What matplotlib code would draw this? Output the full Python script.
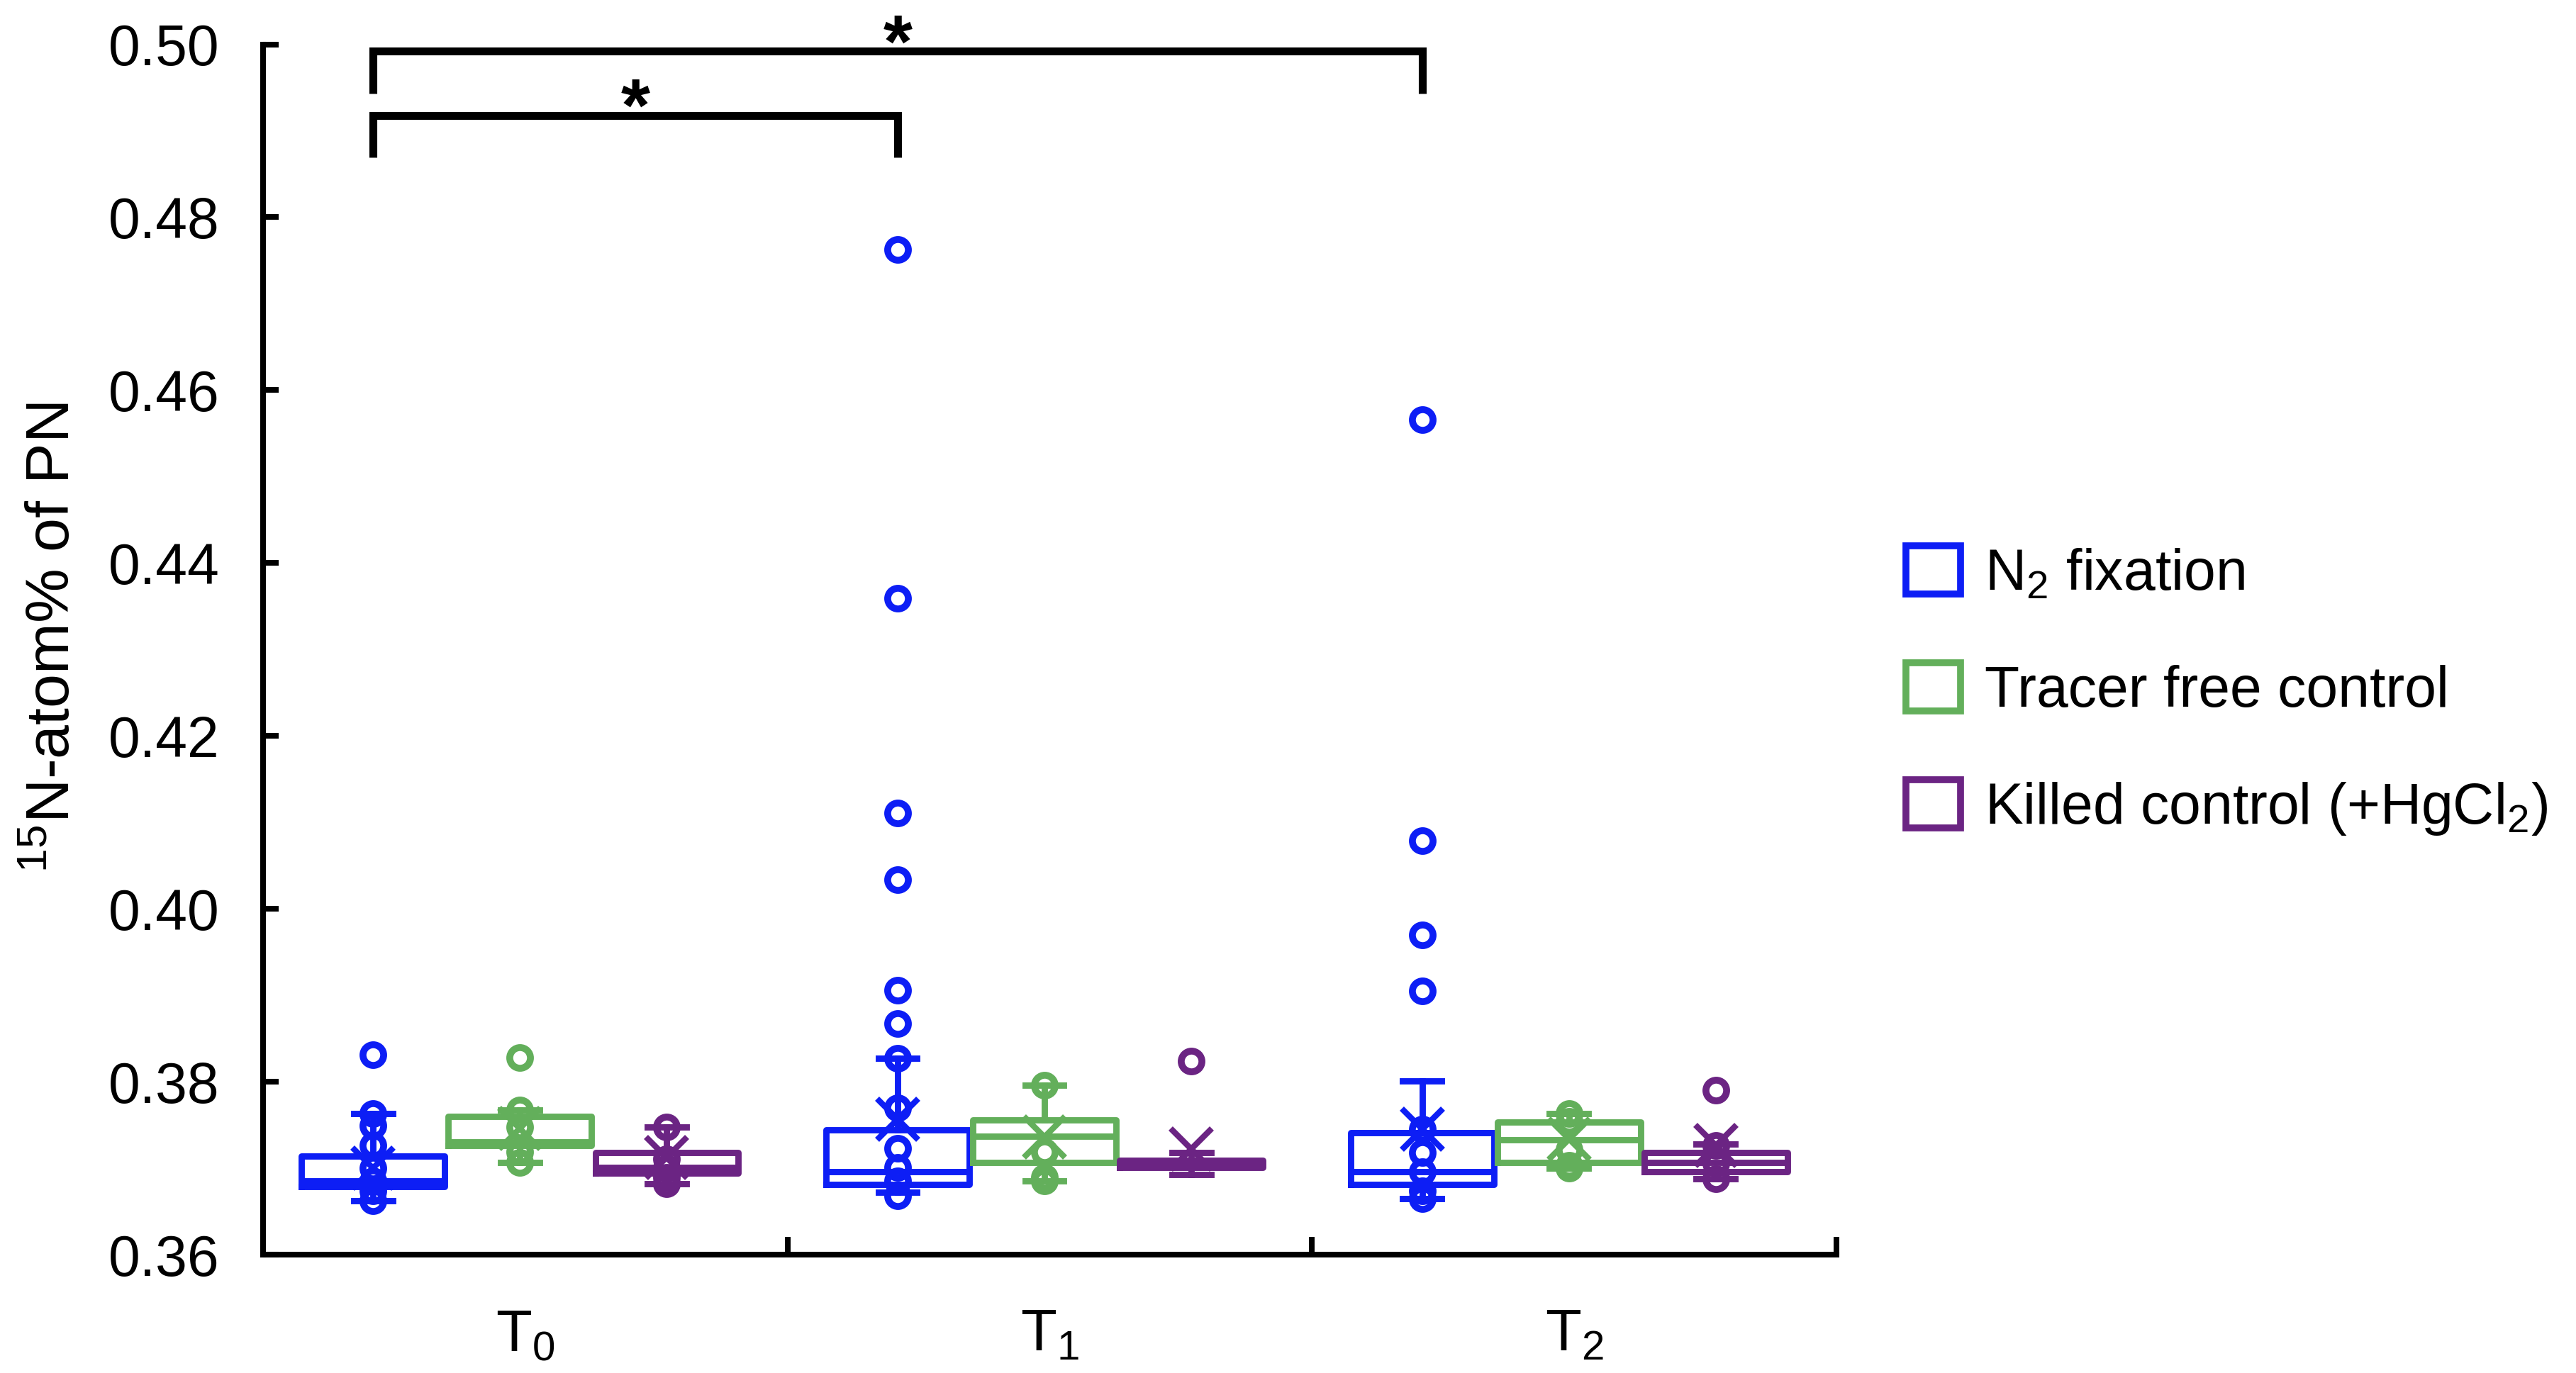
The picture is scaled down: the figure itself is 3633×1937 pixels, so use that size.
import numpy as np
import matplotlib
matplotlib.use("Agg")
import matplotlib.pyplot as plt
from matplotlib.patches import Patch
from matplotlib.ticker import FormatStrFormatter

plt.rcParams["font.family"] = ["Liberation Sans", "DejaVu Sans"]
plt.rcParams["mathtext.fontset"] = "custom"
plt.rcParams["mathtext.rm"] = "Liberation Sans"
plt.rcParams["mathtext.it"] = "Liberation Sans:italic"
plt.rcParams["mathtext.bf"] = "Liberation Sans:bold"

# --- data ---
times = ["T$_0$", "T$_1$", "T$_2$"]
treatments = ["N$_2$ fixation", "Tracer free control", "Killed control (+HgCl$_2$)"]
colors = ["#0D1EF5", "#63AF5B", "#6B2483"]

# N2 fixation
n2_whislo = [0.3662, 0.3672, 0.3665]
n2_q1 = [0.3679, 0.3681, 0.3681]
n2_med = [0.3685, 0.3696, 0.3696]
n2_q3 = [0.3714, 0.3744, 0.3741]
n2_whishi = [0.3763, 0.3827, 0.3801]
n2_mean = [0.3700, 0.3757, 0.3745]
n2_points = [
    [0.3831, 0.3763, 0.3749, 0.3726, 0.3700, 0.3685, 0.3674, 0.3662],
    [0.4763, 0.4359, 0.4111, 0.4034, 0.3906, 0.3867, 0.3827, 0.3770,
     0.3723, 0.3701, 0.3685, 0.3668],
    [0.4566, 0.4079, 0.3970, 0.3905, 0.3745, 0.3718, 0.3696, 0.3674, 0.3665],
]

# tracer free control
tf_whislo = [0.3707, 0.3685, 0.3700]
tf_q1 = [0.3726, 0.3707, 0.3707]
tf_med = [0.3730, 0.3737, 0.3733]
tf_q3 = [0.3760, 0.3756, 0.3753]
tf_whishi = [0.3767, 0.3796, 0.3763]
tf_mean = [0.3746, 0.3736, 0.3734]
tf_points = [
    [0.3828, 0.3767, 0.3748, 0.3719, 0.3707],
    [0.3796, 0.3719, 0.3689, 0.3685],
    [0.3763, 0.3754, 0.3721, 0.3703, 0.3700],
]

# killed control (+HgCl2)
kc_whislo = [0.3682, 0.3693, 0.3688]
kc_q1 = [0.3694, 0.3701, 0.3696]
kc_med = [0.3701, 0.3705, 0.3707]
kc_q3 = [0.3718, 0.3709, 0.3718]
kc_whishi = [0.3748, 0.3718, 0.3728]
kc_mean = [0.3712, 0.3722, 0.3726]
kc_points = [
    [0.3748, 0.3711, 0.3700, 0.3689, 0.3682],
    [0.3824],
    [0.3790, 0.3726, 0.3706, 0.3688],
]

# significance brackets: (from time, to time), bracket height
sig_pairs = [(0, 1), (0, 2)]
sig_heights = [0.4918, 0.4992]
sig_drop = 0.0049

groups = [
    (n2_whislo, n2_q1, n2_med, n2_q3, n2_whishi, n2_mean, n2_points),
    (tf_whislo, tf_q1, tf_med, tf_q3, tf_whishi, tf_mean, tf_points),
    (kc_whislo, kc_q1, kc_med, kc_q3, kc_whishi, kc_mean, kc_points),
]
offsets = [-0.29, -0.01, 0.27]
box_w = 0.273
lw = 3.2

fig = plt.figure(figsize=(18.165, 9.685), dpi=200)
ax = fig.add_axes([0.1021, 0.0862, 0.6108, 0.8815])

for k, (g, color) in enumerate(zip(groups, colors)):
    wlo, q1, med, q3, whi, mean, pts = g
    stats = []
    for i in range(len(times)):
        stats.append({"whislo": wlo[i], "q1": q1[i], "med": med[i], "q3": q3[i],
                      "whishi": whi[i], "mean": mean[i], "fliers": []})
    pos = [i + offsets[k] for i in range(len(times))]
    ax.bxp(stats, positions=pos, widths=box_w, capwidths=0.074,
           showmeans=True, showfliers=False, manage_ticks=False,
           boxprops=dict(color=color, linewidth=lw),
           whiskerprops=dict(color=color, linewidth=lw),
           capprops=dict(color=color, linewidth=lw),
           medianprops=dict(color=color, linewidth=lw),
           meanprops=dict(marker="x", markeredgecolor=color, markersize=21,
                          markeredgewidth=3.0, linestyle="none"))
    for i, p in enumerate(pts):
        ax.plot([pos[i]] * len(p), p, linestyle="none", marker="o",
                markerfacecolor="none", markeredgecolor=color,
                markersize=10.5, markeredgewidth=3.5, clip_on=False, zorder=4)

# brackets + stars
for (a, b), h in zip(sig_pairs, sig_heights):
    xa = a + offsets[0]
    xb = b + offsets[0]
    ax.plot([xa, xa, xb, xb], [h - sig_drop, h, h, h - sig_drop], color="black",
            lw=4, clip_on=False, solid_joinstyle="miter", solid_capstyle="butt")
    ax.text((xa + xb) / 2, h - 0.0018, "*", ha="center", va="baseline",
            fontsize=38, fontweight="bold", clip_on=False)

ax.set_xlim(-0.5, 2.5)
ax.set_ylim(0.36, 0.50)
for s in ["top", "right"]:
    ax.spines[s].set_visible(False)
for s in ["left", "bottom"]:
    ax.spines[s].set_linewidth(2.9)

ax.set_yticks(np.arange(0.36, 0.5001, 0.02))
ax.yaxis.set_major_formatter(FormatStrFormatter("%.2f"))
ax.tick_params(axis="y", direction="in", length=8, width=2.9, labelsize=29, pad=22)

ax.set_xticks(range(len(times)))
ax.set_xticklabels(times)
ax.tick_params(axis="x", which="major", length=0, labelsize=30, pad=27)
ax.set_xticks([0.5, 1.5, 2.5], minor=True)
ax.tick_params(axis="x", which="minor", direction="in", length=9, width=2.9)

ax.set_ylabel("$^{15}$N-atom% of PN", fontsize=31, labelpad=20)
ax.yaxis.set_label_coords(-0.115, 0.51)

handles = [Patch(facecolor="white", edgecolor=c, linewidth=3.5) for c in colors]
fig.legend(handles, treatments, loc="center left", bbox_to_anchor=(0.740, 0.4965),
           frameon=False, fontsize=29, borderpad=0, borderaxespad=0,
           handlelength=0.95, handleheight=0.93, handletextpad=0.42,
           labelspacing=1.07)

fig.savefig("out.png", dpi=200)
